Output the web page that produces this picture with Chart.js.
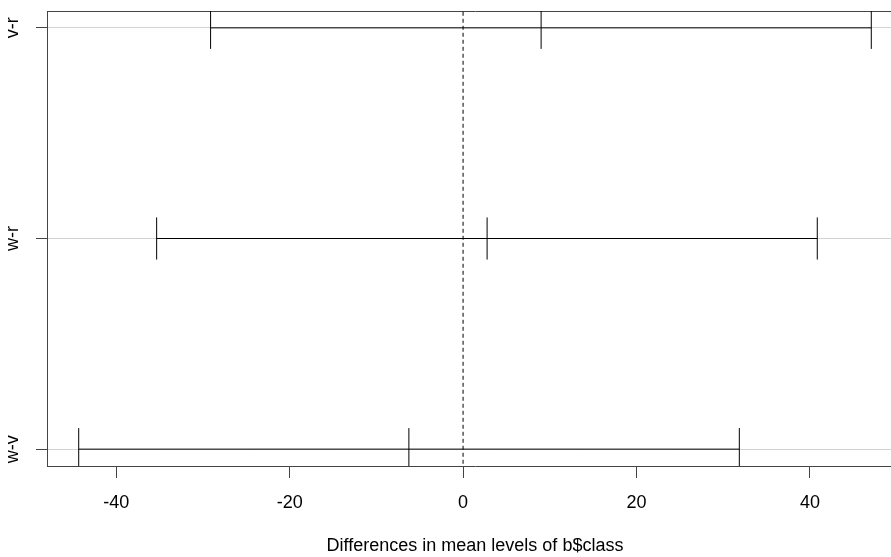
<!DOCTYPE html>
<html>
<head>
<meta charset="utf-8">
<script src="https://cdn.jsdelivr.net/npm/chart.js@4"></script>
<style>
  html, body { margin: 0; padding: 0; background: #fff; overflow: hidden; }
  #wrap { width: 920px; height: 557px; }
</style>
</head>
<body>
<div id="wrap"><canvas id="tukey" width="920" height="557"></canvas></div>
<script>
// Tukey HSD intervals
const comparisons = ['v-r', 'w-r', 'w-v'];
const diffs = [9.0, 2.77, -6.25];
const lwr = [-29.12, -35.34, -44.33];
const upr = [47.08, 40.85, 31.86];
const xTicks = [-40, -20, 0, 20, 40];

// rows are drawn top to bottom: first comparison on top
const rowY = comparisons.map((c, i) => comparisons.length - i);

// axis limits like R: data range plus 4% each side
const lo = Math.min(...lwr), hi = Math.max(...upr);
const xMin = lo - 0.04 * (hi - lo), xMax = hi + 0.04 * (hi - lo);
const yMin = 1 - 0.04 * (comparisons.length - 1), yMax = comparisons.length + 0.04 * (comparisons.length - 1);

const line = (pts, extra) => Object.assign({
    data: pts, showLine: true, pointRadius: 0, borderColor: '#000',
    borderWidth: 1, clip: 0
}, extra || {});

const datasets = [];
comparisons.forEach((c, i) => {
    const y = rowY[i];
    datasets.push(line([{x: lwr[i], y: y}, {x: upr[i], y: y}]));
    [lwr[i], diffs[i], upr[i]].forEach(v => {
        datasets.push(line([{x: v, y: y - 0.1}, {x: v, y: y + 0.1}]));
    });
});
// dashed line at zero
datasets.push(line([{x: 0, y: 0}, {x: 0, y: comparisons.length + 1}], {borderDash: [4, 3]}));

const font = {family: 'Liberation Sans, Arial, sans-serif', size: 18};

new Chart(document.getElementById('tukey'), {
    type: 'scatter',
    data: {datasets: datasets},
    options: {
        responsive: false,
        animation: false,
        devicePixelRatio: 1,
        layout: {padding: {top: 11, right: 17, left: 0, bottom: 0}},
        plugins: {legend: {display: false}, tooltip: {enabled: false}},
        scales: {
            x: {
                type: 'linear',
                min: xMin, max: xMax,
                afterBuildTicks: s => { s.ticks = xTicks.map(v => ({value: v})); },
                afterFit: s => { s.height = 91; },
                grid: {drawOnChartArea: false, tickLength: 12, tickColor: '#444', tickWidth: 1},
                border: {display: true, color: '#444', width: 1},
                ticks: {color: '#000', font: font, padding: 14, maxRotation: 0},
                title: {display: true, text: 'Differences in mean levels of b$class',
                        color: '#000', font: font, padding: {top: 0, bottom: 0}}
            },
            xTop: {
                type: 'linear', position: 'top', axis: 'x',
                min: xMin, max: xMax,
                afterFit: s => { s.height = 0; s.paddingLeft = 0; s.paddingRight = 0; },
                grid: {drawOnChartArea: false, drawTicks: false},
                border: {display: true, color: '#444', width: 1},
                ticks: {display: false}
            },
            y: {
                type: 'linear',
                min: yMin, max: yMax,
                afterBuildTicks: s => { s.ticks = rowY.map(v => ({value: v})); },
                afterFit: s => { s.width = 47; s.paddingTop = 0; s.paddingBottom = 0; },
                grid: {color: '#d3d3d3', lineWidth: 1, tickLength: 11, tickColor: '#444'},
                border: {display: true, color: '#444', width: 1},
                ticks: {
                    color: '#000', font: font, padding: 9,
                    minRotation: 90, maxRotation: 90, crossAlign: 'center',
                    callback: v => comparisons[rowY.indexOf(v)]
                }
            }
        }
    }
});
</script>
</body>
</html>
